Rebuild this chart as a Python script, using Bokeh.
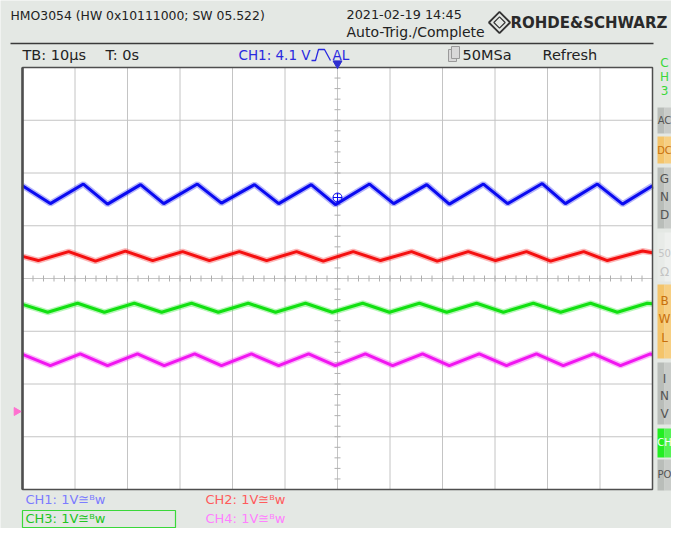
import math
from bokeh.plotting import figure
from bokeh.models import Range1d
from bokeh.core.properties import value
from bokeh.embed import file_html
from bokeh.resources import INLINE

TB_US_PER_DIV = 10.0          # time base 10 us/div
N_XDIV, N_YDIV = 12, 8        # screen divisions

# vertex times (us) and displayed levels (div, 1 V/div incl. position offset)
ch1_t = [-60.0, -54.7, -48.4, -43.8, -37.5, -33.1, -26.7, -22.1, -15.8, -11.2, -5.0, -0.4,
         6.1, 10.7, 17.0, 21.3, 27.8, 32.4, 39.0, 43.4, 49.5, 54.3, 60.0]
ch1_v = [1.76, 1.42, 1.79, 1.41, 1.78, 1.42, 1.79, 1.43, 1.78, 1.42, 1.78, 1.40,
         1.79, 1.42, 1.78, 1.41, 1.79, 1.42, 1.80, 1.42, 1.79, 1.41, 1.76]

ch2_t = [-60.0, -57.0, -51.2, -46.1, -40.4, -35.2, -29.5, -24.4, -18.7, -13.5, -7.8, -2.7,
         3.0, 8.2, 14.1, 19.0, 24.9, 30.1, 36.0, 40.6, 46.9, 51.4, 58.1, 60.0]
ch2_v = [0.42, 0.34, 0.51, 0.33, 0.52, 0.34, 0.51, 0.34, 0.51, 0.34, 0.51, 0.33,
         0.51, 0.34, 0.51, 0.33, 0.51, 0.34, 0.51, 0.33, 0.51, 0.34, 0.52, 0.49]

ch3_t = [-60.0, -55.2, -49.5, -44.4, -38.7, -33.5, -27.8, -22.7, -17.0, -11.8, -6.1, -1.0,
         4.8, 9.9, 15.6, 20.8, 26.5, 31.6, 37.3, 42.5, 48.2, 53.3, 59.0, 60.0]
ch3_v = [-0.49, -0.64, -0.47, -0.64, -0.47, -0.64, -0.47, -0.64, -0.47, -0.64, -0.47, -0.64,
         -0.47, -0.64, -0.47, -0.64, -0.47, -0.64, -0.47, -0.64, -0.47, -0.64, -0.47, -0.48]

ch4_t = [-60.0, -54.7, -49.0, -43.8, -38.1, -33.0, -27.2, -22.1, -16.4, -11.2, -5.5, -0.4,
         5.3, 10.5, 16.2, 21.3, 27.0, 32.2, 37.9, 43.0, 48.8, 53.9, 59.6, 60.0]
ch4_v = [-1.44, -1.65, -1.43, -1.65, -1.43, -1.65, -1.43, -1.65, -1.43, -1.65, -1.43, -1.65,
         -1.43, -1.65, -1.43, -1.65, -1.43, -1.65, -1.43, -1.65, -1.43, -1.65, -1.43, -1.44]

trace_colors = ["#0a0af0", "#f41010", "#12e012", "#f016f0"]

header_left = "HMO3054 (HW 0x10111000; SW 05.522)"
header_date = "2021-02-19 14:45"
header_state = "Auto-Trig./Complete"
brand = "ROHDE&SCHWARZ"
status_items = ["TB: 10\u00b5s", "T: 0s"]
trig_text = "CH1: 4.1 V"
trig_suffix = "AL"
acq_text = "50MSa"
mode_text = "Refresh"
chan_labels = ["CH1: 1V\u2245\u1d2ew", "CH2: 1V\u2245\u1d2ew", "CH3: 1V\u2245\u1d2ew", "CH4: 1V\u2245\u1d2ew"]
chan_label_colors = ["#7c7cff", "#ff5c5c", "#22c422", "#ff80ff"]

# ---------------- layout (reference pixel geometry) ----------------
W, H = 671, 528
X0, PX_DIV = 337.0, 52.5      # screen centre / px per division
Y0, PY_DIV = 278.0, 52.75

BG = "#e4e8e4"
FONT = value("DejaVu Sans")

p = figure(width=W, height=H, output_backend="svg", toolbar_location=None,
           x_range=Range1d(0, W), y_range=Range1d(H, 0),
           x_axis_location=None, y_axis_location=None, min_border=0,
           background_fill_color=BG, border_fill_color=BG, outline_line_color=None)
p.grid.visible = False

# scales for the waveform screen (time in us, level in divisions)
p.extra_x_ranges = {"t": Range1d((0 - X0) / PX_DIV * TB_US_PER_DIV,
                                 (W - X0) / PX_DIV * TB_US_PER_DIV)}
p.extra_y_ranges = {"v": Range1d((Y0 - H) / PY_DIV, Y0 / PY_DIV)}

tmax = N_XDIV / 2 * TB_US_PER_DIV
vmax = N_YDIV / 2

# screen area
p.quad(left=[-tmax], right=[tmax], bottom=[-vmax], top=[vmax], fill_color="white",
       line_color=None, x_range_name="t", y_range_name="v")

# grid
gx = [(-tmax + i * TB_US_PER_DIV) for i in range(1, N_XDIV)]
p.segment(x0=gx, x1=gx, y0=[-vmax] * len(gx), y1=[vmax] * len(gx), line_color="#c4c4c4",
          line_width=1, x_range_name="t", y_range_name="v")
gy = [(-vmax + i) for i in range(1, N_YDIV)]
p.segment(x0=[-tmax] * len(gy), x1=[tmax] * len(gy), y0=gy, y1=gy, line_color="#c4c4c4",
          line_width=1, x_range_name="t", y_range_name="v")

# centre-axis minor ticks (1/5 div)
mt = [(-tmax + i * TB_US_PER_DIV / 5) for i in range(1, N_XDIV * 5)]
dv = 3.0 / PY_DIV
p.segment(x0=mt, x1=mt, y0=[-dv] * len(mt), y1=[dv] * len(mt), line_color="#b0b0b0",
          x_range_name="t", y_range_name="v")
mv = [(-vmax + i / 5) for i in range(1, N_YDIV * 5)]
dt = 3.0 / PX_DIV * TB_US_PER_DIV
p.segment(x0=[-dt] * len(mv), x1=[dt] * len(mv), y0=mv, y1=mv, line_color="#b0b0b0",
          x_range_name="t", y_range_name="v")

# traces
for tt, vv, c in zip([ch1_t, ch2_t, ch3_t, ch4_t], [ch1_v, ch2_v, ch3_v, ch4_v], trace_colors):
    p.line(tt, vv, line_color=c, line_width=6, line_alpha=0.3, x_range_name="t", y_range_name="v")
    p.line(tt, vv, line_color=c, line_width=3, x_range_name="t", y_range_name="v")

# screen border
p.quad(left=[-tmax], right=[tmax], bottom=[-vmax], top=[vmax], fill_color=None,
       line_color="#4e4e4e", line_width=1.5, x_range_name="t", y_range_name="v")
p.segment(x0=[-tmax], x1=[-tmax], y0=[-vmax], y1=[vmax], line_color="#4e4e4e", line_width=2.5,
          x_range_name="t", y_range_name="v")

# trigger point marker on CH1 and trigger position arrow
p.scatter([337], [197], marker="circle_cross", size=9, fill_color=None, line_color="#0a0af0")
p.scatter([337], [63], marker="inverted_triangle", size=9, fill_color="#2f2fd0", line_color="#2f2fd0")
p.scatter([16], [411], marker="triangle", angle=-math.pi / 2, size=8, fill_color="#ff70d0",
          line_color="#ff70d0")

# header
p.segment(x0=[10], x1=[653], y0=[43], y1=[43], line_color="#3a3a3a", line_width=1.5)
p.text(x=[10], y=[15], text=[header_left], text_font=FONT, text_font_size="12.4px",
       text_color="#222222", text_baseline="middle")
p.text(x=[346], y=[14], text=[header_date], text_font=FONT,
       text_font_size="12.8px", text_color="#222222", text_baseline="middle")
p.text(x=[346], y=[31], text=[header_state], text_font=FONT,
       text_font_size="14px", text_color="#222222", text_baseline="middle")
p.scatter([499, 499], [22, 22], marker="square", angle=math.pi / 4, size=[15, 8],
          fill_color=None, line_color="#333333", line_width=[1.8, 1.2])
p.text(x=[510], y=[22], text=[brand], text_font=FONT, text_font_style="bold",
       text_font_size="15px", text_color="#2a2a2a", text_baseline="middle")

# status row
p.text(x=[22, 105], y=[54, 54], text=status_items, text_font=FONT, text_font_size="14.5px",
       text_color="#222222", text_baseline="middle")
p.text(x=[238], y=[54], text=[trig_text], text_font=FONT, text_font_size="13.5px",
       text_color="#2a2ae0", text_baseline="middle")
p.line([311, 315, 318, 324, 330], [60, 60, 49, 49, 60], line_color="#2a2ae0", line_width=1.3)
p.text(x=[332], y=[54], text=[trig_suffix], text_font=FONT, text_font_size="13.5px",
       text_color="#2a2ae0", text_baseline="middle")
p.quad(left=[448, 451], right=[456, 459], top=[49, 46], bottom=[61, 58], fill_color="#d8d8d8",
       line_color="#9a9a9a")
p.text(x=[462, 542], y=[54, 54], text=[acq_text, mode_text], text_font=FONT,
       text_font_size="14.5px", text_color="#222222", text_baseline="middle")

# right-hand soft-key column (compacted to fit the canvas)
KL, KM, KR = 657, 664, 671
p.text(x=[KM] * 3, y=[62, 76, 90], text=["C", "H", "3"], text_font=FONT,
       text_font_size="12px", text_color="#3ad83a", text_baseline="middle", text_align="center")
keys_top = [107, 136, 167, 232, 284, 362, 428, 459]
keys_bot = [133, 163, 228, 281, 358, 424, 457, 490]
keys_fill = ["#b9bdb9", "#f4c46a", "#b9bdb9", "#e8ebe8", "#f4c46a", "#b9bdb9", "#22ee22", "#b9bdb9"]
keys_fill2 = ["#c9ccc9", "#f7cf82", "#c9ccc9", "#eef0ee", "#f7cf82", "#c9ccc9", "#55f255", "#c9ccc9"]
p.quad(left=[KL] * 8, right=[KM] * 8, top=keys_top, bottom=keys_bot, fill_color=keys_fill,
       line_color=None)
p.quad(left=[KM] * 8, right=[KR] * 8, top=keys_top, bottom=keys_bot, fill_color=keys_fill2,
       line_color=None)
key_tx = ["AC", "DC", "G", "N", "D", "50", "\u03a9", "B", "W", "L", "I", "N", "V", "CH", "PO"]
key_y = [120, 150, 178, 196, 214, 252, 271, 300, 318, 337, 378, 395, 413, 442, 474]
key_c = ["#555555", "#c8700c", "#555555", "#555555", "#555555", "#c4c4c4", "#c4c4c4",
         "#c8700c", "#c8700c", "#c8700c", "#555555", "#555555", "#555555", "#ffffff", "#555555"]
key_fs = ["10px", "10px", "12px", "12px", "12px", "10px", "12px", "12px", "12px", "12px",
          "12px", "12px", "12px", "10px", "10px"]
p.text(x=[KM] * len(key_tx), y=key_y, text=key_tx, text_font=FONT, text_font_size=key_fs,
       text_color=key_c, text_baseline="middle", text_align="center")

# channel settings
p.quad(left=[22], right=[175], top=[510], bottom=[527], fill_color=None, line_color="#3ad83a",
       line_width=1.2)
p.text(x=[25, 205, 25, 205], y=[499, 499, 518, 518], text=chan_labels, text_font=FONT,
       text_font_size="13px", text_color=chan_label_colors, text_baseline="middle")

open("out.html", "w").write(file_html(p, INLINE))
